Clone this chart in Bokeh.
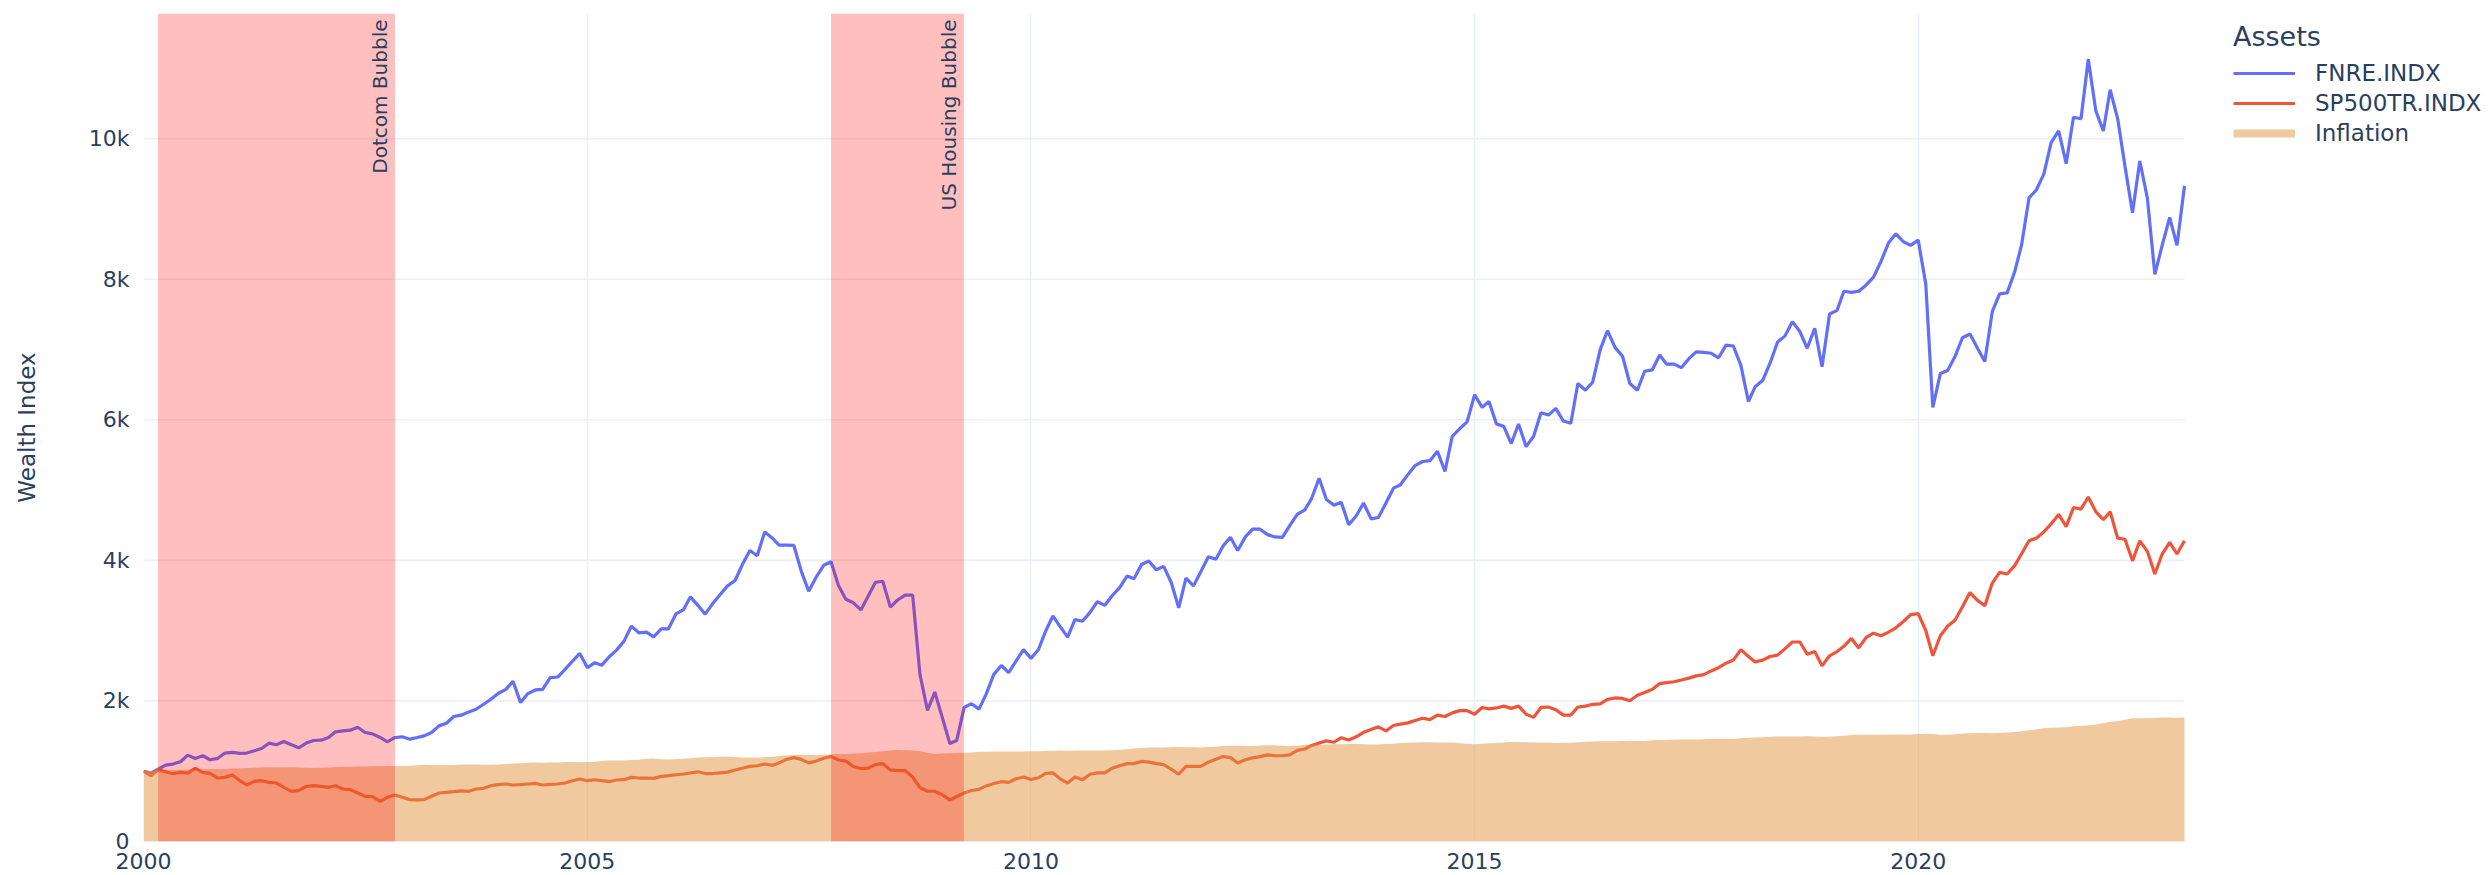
import numpy as np
import pandas as pd
from bokeh.plotting import figure
from bokeh.models import (Range1d, FixedTicker, DatetimeTickFormatter, BoxAnnotation,
                          Label, Legend, LegendItem)
from bokeh.embed import file_html
from bokeh.resources import INLINE

# ---------------- data ----------------
start_date = "2000-01-01"
n_months = 277

fnre = [
    1000, 974, 1030, 1087, 1102, 1135, 1229, 1182, 1220, 1163, 1182, 1258,
    1267, 1253, 1258, 1290, 1324, 1400, 1376, 1423, 1376, 1333, 1400, 1437,
    1442, 1480, 1560, 1574, 1584, 1626, 1551, 1532, 1480, 1418, 1480, 1489,
    1456, 1480, 1503, 1551, 1645, 1683, 1778, 1797, 1844, 1882, 1953, 2024,
    2109, 2165, 2279, 1976, 2104, 2156, 2165, 2331, 2340, 2449, 2567, 2676,
    2473, 2544, 2506, 2629, 2723, 2851, 3064, 2969, 2978, 2912, 3026, 3026,
    3239, 3300, 3480, 3360, 3234, 3385, 3511, 3637, 3713, 3940, 4141, 4066,
    4403, 4318, 4217, 4217, 4212, 3839, 3562, 3763, 3930, 3980, 3637, 3446,
    3396, 3295, 3486, 3688, 3703, 3335, 3436, 3506, 3506, 2378, 1864, 2126,
    1763, 1395, 1436, 1909, 1960, 1884, 2101, 2378, 2504, 2403, 2569, 2731,
    2605, 2731, 2982, 3209, 3058, 2907, 3159, 3134, 3260, 3411, 3360, 3496,
    3612, 3778, 3738, 3940, 3990, 3864, 3914, 3688, 3325, 3748, 3637, 3839,
    4050, 4015, 4202, 4328, 4141, 4333, 4443, 4443, 4366, 4333, 4327, 4494,
    4655, 4719, 4879, 5168, 4866, 4783, 4828, 4507, 4635, 4815, 4590, 4610,
    4815, 5027, 5072, 5219, 5348, 5406, 5418, 5553, 5264, 5765, 5874, 5971,
    6356, 6176, 6260, 5939, 5906, 5662, 5939, 5618, 5765, 6099, 6067, 6163,
    5983, 5951, 6516, 6420, 6536, 6998, 7267, 7030, 6902, 6516, 6420, 6690,
    6709, 6921, 6792, 6792, 6741, 6869, 6966, 6959, 6946, 6882, 7062, 7049,
    6773, 6260, 6471, 6561, 6805, 7107, 7190, 7396, 7255, 7017, 7302, 6755,
    7505, 7557, 7828, 7813, 7828, 7918, 8030, 8256, 8518, 8646, 8533, 8481,
    8556, 7933, 6177, 6657, 6702, 6905, 7167, 7220, 7017, 6830, 7542, 7790,
    7805, 8105, 8481, 9156, 9269, 9494, 9944, 10109, 9644, 10304, 10282, 11130,
    10394, 10109, 10695, 10282, 9606, 8946, 9681, 9156, 8068, 8481, 8878, 8481,
    9329,
]

sp500tr = [
    1000, 936, 1021, 993, 965, 983, 974, 1040, 983, 969, 903, 912,
    946, 865, 804, 856, 865, 842, 832, 771, 714, 728, 785, 794,
    785, 771, 794, 747, 738, 690, 643, 638, 572, 629, 662, 629,
    596, 591, 596, 643, 690, 700, 709, 719, 714, 747, 756, 794,
    808, 818, 804, 808, 818, 827, 804, 813, 818, 832, 865, 889,
    865, 879, 865, 851, 875, 879, 912, 903, 903, 898, 927, 936,
    950, 960, 974, 992, 967, 967, 977, 987, 1018, 1043, 1068, 1078,
    1103, 1083, 1118, 1169, 1194, 1169, 1118, 1144, 1184, 1209, 1159, 1144,
    1068, 1038, 1043, 1093, 1108, 1018, 1008, 1008, 917, 766, 715, 715,
    665, 589, 640, 690, 725, 741, 791, 826, 851, 841, 892, 917,
    882, 907, 967, 977, 892, 831, 917, 877, 957, 977, 977, 1043,
    1078, 1108, 1108, 1139, 1129, 1108, 1093, 1028, 957, 1068, 1068, 1068,
    1129, 1169, 1209, 1194, 1118, 1162, 1190, 1207, 1233, 1220, 1220, 1233,
    1297, 1316, 1367, 1400, 1432, 1412, 1477, 1444, 1489, 1554, 1592, 1631,
    1573, 1650, 1669, 1688, 1721, 1753, 1733, 1798, 1778, 1830, 1862, 1862,
    1810, 1907, 1887, 1900, 1926, 1894, 1926, 1810, 1766, 1907, 1913, 1875,
    1798, 1798, 1913, 1926, 1952, 1958, 2022, 2042, 2035, 2003, 2080, 2119,
    2164, 2247, 2260, 2273, 2298, 2324, 2356, 2375, 2427, 2472, 2536, 2581,
    2729, 2632, 2555, 2581, 2632, 2651, 2741, 2838, 2838, 2664, 2702, 2499,
    2642, 2702, 2777, 2889, 2754, 2904, 2964, 2927, 2979, 3040, 3130, 3227,
    3242, 3002, 2642, 2927, 3062, 3152, 3340, 3542, 3430, 3355, 3677, 3828,
    3805, 3925, 4090, 4278, 4315, 4405, 4518, 4653, 4480, 4751, 4728, 4901,
    4691, 4578, 4691, 4315, 4300, 3993, 4278, 4128, 3805, 4090, 4255, 4090,
    4278,
]

inflation = [
    1000, 1006, 1014, 1015, 1016, 1021, 1024, 1024, 1029, 1031, 1031, 1031,
    1037, 1041, 1044, 1048, 1053, 1055, 1052, 1052, 1056, 1053, 1051, 1047,
    1049, 1053, 1059, 1065, 1065, 1066, 1067, 1071, 1072, 1074, 1074, 1072,
    1076, 1085, 1091, 1089, 1087, 1088, 1089, 1094, 1097, 1096, 1093, 1092,
    1097, 1103, 1110, 1114, 1120, 1124, 1122, 1123, 1125, 1131, 1132, 1127,
    1130, 1136, 1145, 1153, 1152, 1152, 1158, 1164, 1178, 1180, 1171, 1166,
    1175, 1177, 1184, 1194, 1200, 1202, 1206, 1208, 1202, 1196, 1194, 1196,
    1199, 1206, 1217, 1225, 1232, 1235, 1234, 1232, 1235, 1238, 1245, 1244,
    1251, 1254, 1265, 1273, 1283, 1296, 1303, 1298, 1296, 1283, 1258, 1245,
    1251, 1257, 1260, 1263, 1267, 1278, 1276, 1279, 1280, 1281, 1282, 1279,
    1284, 1284, 1289, 1291, 1293, 1291, 1291, 1293, 1294, 1296, 1296, 1299,
    1305, 1311, 1324, 1332, 1339, 1337, 1338, 1342, 1344, 1341, 1340, 1337,
    1343, 1349, 1359, 1363, 1361, 1360, 1357, 1365, 1371, 1370, 1364, 1360,
    1364, 1376, 1379, 1377, 1380, 1383, 1384, 1386, 1387, 1383, 1381, 1381,
    1386, 1391, 1400, 1405, 1409, 1412, 1412, 1409, 1410, 1407, 1399, 1391,
    1384, 1391, 1399, 1402, 1409, 1414, 1414, 1412, 1410, 1409, 1406, 1401,
    1404, 1405, 1411, 1418, 1423, 1428, 1425, 1427, 1430, 1432, 1430, 1430,
    1439, 1443, 1444, 1449, 1450, 1451, 1450, 1454, 1462, 1461, 1461, 1460,
    1468, 1475, 1478, 1484, 1490, 1493, 1493, 1494, 1495, 1498, 1493, 1488,
    1491, 1497, 1506, 1514, 1517, 1517, 1520, 1520, 1521, 1524, 1524, 1522,
    1528, 1533, 1529, 1519, 1519, 1527, 1535, 1540, 1542, 1543, 1541, 1543,
    1550, 1558, 1569, 1582, 1595, 1610, 1617, 1621, 1625, 1639, 1646, 1652,
    1666, 1681, 1703, 1713, 1732, 1755, 1755, 1755, 1758, 1765, 1764, 1758,
    1768,
]

series_names = ["FNRE.INDX", "SP500TR.INDX", "Inflation"]
legend_title = "Assets"
y_title = "Wealth Index"

y_tick_values = [0, 2000, 4000, 6000, 8000, 10000]
y_tick_labels = ["0", "2k", "4k", "6k", "8k", "10k"]
x_tick_years = [2000, 2005, 2010, 2015, 2020]

bubble_names = ["Dotcom Bubble", "US Housing Bubble"]
bubble_starts = ["2000-03-01", "2007-10-01"]
bubble_ends = ["2002-11-01", "2009-03-31"]

y_max = 11780

# ---------------- styling / layout ----------------
FONT = "DejaVu Sans"
TXT = "#2a3f5f"
GRID = "#EBF0F8"
BLUE = "#636EFA"
RED = "#EF553B"
INFL = (225, 147, 61)

W, H = 2489, 875
LEFT, TOP, BOTTOM = 143, 13, 34
PLOT_W = 2041          # width of the data area; legend lives to its right


def ms(d):
    return pd.Timestamp(d).value / 1e6


dates = pd.date_range(start_date, periods=n_months, freq="MS")
x0, x1 = ms(dates[0]), ms(dates[-1])
# the frame also covers the legend column; the data area ends at x1
x_end = x0 + (x1 - x0) * (W - LEFT) / PLOT_W

p = figure(width=W, height=H, x_axis_type="datetime",
           output_backend="svg", toolbar_location=None, tools="",
           x_range=Range1d(x0, x_end), y_range=Range1d(0, y_max),
           min_border_left=LEFT, min_border_right=0,
           min_border_top=TOP, min_border_bottom=BOTTOM)
p.outline_line_color = None
p.background_fill_color = "white"
p.border_fill_color = "white"

# horizontal grid lines limited to the data area
p.ygrid.visible = False
p.segment(x0=[x0] * len(y_tick_values), y0=y_tick_values,
          x1=[x1] * len(y_tick_values), y1=y_tick_values,
          line_color=GRID, line_width=1.6, level="underlay")

r_fnre = p.line(dates, fnre, line_color=BLUE, line_width=3.2)
r_sp = p.line(dates, sp500tr, line_color=RED, line_width=3.2)
p.varea(x=dates, y1=0, y2=inflation, fill_color=INFL, fill_alpha=0.5)
# legend swatch for the filled trace (thick bar); not drawn in the plot itself
r_infl_leg = p.line(dates, inflation, line_color=INFL, line_alpha=0.5,
                    line_width=8, visible=False)

# shaded periods + labels
for name, s, e in zip(bubble_names, bubble_starts, bubble_ends):
    p.add_layout(BoxAnnotation(left=ms(s), right=ms(e), fill_color="red",
                               fill_alpha=0.25, line_alpha=0, level="annotation"))
    p.add_layout(Label(x=ms(e), y=y_max, y_offset=-6, x_offset=-3, text=name,
                       angle=np.pi / 2, text_align="right", text_baseline="bottom",
                       text_font=FONT, text_font_size="20px", text_color=TXT))

# axes
xt = [ms(f"{y}-01-01") for y in x_tick_years]
p.xaxis.ticker = FixedTicker(ticks=xt)
p.xgrid.ticker = FixedTicker(ticks=xt)
p.xgrid.grid_line_color = GRID
p.xgrid.grid_line_width = 1.6
p.xaxis.formatter = DatetimeTickFormatter(
    years="%Y", months="%Y", days="%Y", hours="%Y", hourmin="%Y", minutes="%Y",
    minsec="%Y", seconds="%Y", milliseconds="%Y", microseconds="%Y")
p.yaxis.ticker = FixedTicker(ticks=y_tick_values)
p.yaxis.major_label_overrides = dict(zip(y_tick_values, y_tick_labels))

for ax in (p.xaxis[0], p.yaxis[0]):
    ax.axis_line_color = None
    ax.major_tick_line_color = None
    ax.minor_tick_line_color = None
    ax.major_label_text_font = FONT
    ax.major_label_text_font_size = "22px"
    ax.major_label_text_color = TXT
p.xaxis.major_label_standoff = 5
p.yaxis.major_label_standoff = 8
p.yaxis.axis_label = y_title
p.yaxis.axis_label_text_font = FONT
p.yaxis.axis_label_text_font_size = "23px"
p.yaxis.axis_label_text_font_style = "normal"
p.yaxis.axis_label_text_color = TXT
p.yaxis.axis_label_standoff = 46

legend = Legend(
    items=[LegendItem(label=series_names[0], renderers=[r_fnre]),
           LegendItem(label=series_names[1], renderers=[r_sp]),
           LegendItem(label=series_names[2], renderers=[r_infl_leg])],
    location=(2090, 695), title=legend_title,
    title_text_font=FONT, title_text_font_size="27px", title_text_color=TXT,
    title_text_font_style="normal", title_standoff=8,
    label_text_font=FONT, label_text_font_size="23px", label_text_color=TXT,
    glyph_width=62, glyph_height=24, label_height=24, label_standoff=20,
    spacing=4, padding=0, margin=0, border_line_alpha=0,
    background_fill_alpha=0, inactive_fill_alpha=0)
p.add_layout(legend)

open("out.html", "w").write(file_html(p, INLINE))
